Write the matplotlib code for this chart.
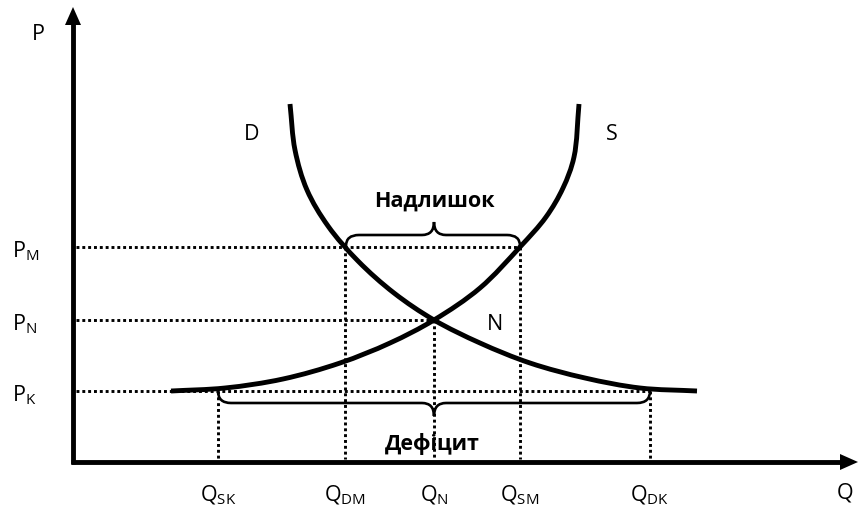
import numpy as np
import matplotlib
matplotlib.use('Agg')
from matplotlib import pyplot as plt
from matplotlib.path import Path
from matplotlib.patches import PathPatch

plt.rcParams['font.family'] = ['Open Sans', 'Noto Sans', 'DejaVu Sans']
plt.rcParams['mathtext.fontset'] = 'custom'
plt.rcParams['mathtext.rm'] = 'Open Sans'

# chart is laid out in picture units (x right, y down)
origin = (73, 462)
q_names = ['SK', 'DM', 'N', 'SM', 'DK']
q_levels = [218, 345, 434, 520, 650]
p_names = ['M', 'N', 'K']
p_levels = [247, 320, 391]

demand_x = [290, 295, 307, 328, 358, 394, 434, 480, 530, 585, 640, 697]
demand_y = [104, 150, 190, 226, 261, 293, 320, 343, 363, 378, 388, 391]
supply_x = [171, 225, 283, 340, 390, 434, 480, 520, 546, 563, 574, 579]
supply_y = [391, 388, 379, 363, 343, 320, 288, 247, 217, 188, 157, 104]

# dotted guides: (level, where the line stops)
h_guides = [(247, 520), (320, 434), (391, 650)]
v_guides = [(218, 391), (345, 247), (434, 320), (520, 247), (650, 391)]


def smooth_path(xs, ys, a=0.5):
    # centripetal catmull-rom through the read points, as cubic beziers
    pts = np.column_stack([xs, ys]).astype(float)
    ext = np.vstack([2 * pts[0] - pts[1], pts, 2 * pts[-1] - pts[-2]])
    verts = [pts[0]]
    codes = [Path.MOVETO]
    for i in range(1, len(ext) - 2):
        p0, p1, p2, p3 = ext[i - 1], ext[i], ext[i + 1], ext[i + 2]
        d1 = np.hypot(*(p1 - p0)) ** a
        d2 = np.hypot(*(p2 - p1)) ** a
        d3 = np.hypot(*(p3 - p2)) ** a
        b1 = (d1 ** 2 * p2 - d2 ** 2 * p0 + (2 * d1 ** 2 + 3 * d1 * d2 + d2 ** 2) * p1) / (3 * d1 * (d1 + d2))
        b2 = (d3 ** 2 * p1 - d2 ** 2 * p3 + (2 * d3 ** 2 + 3 * d3 * d2 + d2 ** 2) * p2) / (3 * d3 * (d3 + d2))
        verts += [b1, b2, p2]
        codes += [Path.CURVE4] * 3
    return Path(verts, codes)


def brace(x0, x1, y_end, y_mid, y_tip, xm, r=13, rt=12):
    verts = [(x0, y_end), (x0, y_mid), (x0 + r, y_mid), (xm - rt, y_mid),
             (xm, y_mid), (xm, y_tip), (xm, y_mid), (xm + rt, y_mid),
             (x1 - r, y_mid), (x1, y_mid), (x1, y_end)]
    codes = [Path.MOVETO, Path.CURVE3, Path.CURVE3, Path.LINETO,
             Path.CURVE3, Path.CURVE3, Path.CURVE3, Path.CURVE3,
             Path.LINETO, Path.CURVE3, Path.CURVE3]
    return Path(verts, codes)


fig = plt.figure(figsize=(8.58, 5.09), dpi=100)
ax = fig.add_axes([0, 0, 1, 1])
ax.set_xlim(0, 858)
ax.set_ylim(509, 0)
ax.axis('off')

dot = dict(color='black', lw=2.1, linestyle=(0, (1, 1)), dash_capstyle='butt')
for y, x_end in h_guides:
    ax.plot([origin[0] + 3, x_end], [y, y], **dot)
for x, y_start in v_guides:
    ax.plot([x, x], [y_start, origin[1] - 3], **dot)

ax.add_patch(PathPatch(smooth_path(demand_x, demand_y), fill=False, lw=3.5,
                       capstyle='butt'))
ax.add_patch(PathPatch(smooth_path(supply_x, supply_y), fill=False, lw=3.5,
                       capstyle='butt'))

ax.add_patch(PathPatch(brace(346, 520, 246, 235, 222, 434), fill=False, lw=1.9))
ax.add_patch(PathPatch(brace(218, 650, 391, 403, 416, 434), fill=False, lw=1.9))

# axes with arrows
ax.plot([origin[0], origin[0]], [origin[1] + 2, 22], color='black', lw=3.5,
        solid_capstyle='butt')
ax.plot([origin[0] - 2, 842], [origin[1], origin[1]], color='black', lw=3.5,
        solid_capstyle='butt')
ax.fill([origin[0], origin[0] - 8, origin[0] + 8], [7, 25, 25], color='black', lw=0)
ax.fill([858, 840, 840], [origin[1], origin[1] - 8, origin[1] + 8], color='black', lw=0)

fs = 15.5
ax.text(38, 34, 'P', fontsize=fs, ha='center', va='center')
ax.text(845, 493, 'Q', fontsize=fs, ha='center', va='center')
ax.text(252, 134, 'D', fontsize=fs, ha='center', va='center')
ax.text(612, 134, 'S', fontsize=fs, ha='center', va='center')
ax.text(495, 324, 'N', fontsize=fs, ha='center', va='center')
for name, y in zip(p_names, p_levels):
    ax.text(12, y + 4, r'$\mathrm{P}_{\mathrm{%s}}$' % name, fontsize=fs,
            ha='left', va='center')
for name, x in zip(q_names, q_levels):
    ax.text(x, 495, r'$\mathrm{Q}_{\mathrm{%s}}$' % name, fontsize=fs,
            ha='center', va='center')

ax.text(434, 201, 'Надлишок', fontsize=15.5, fontweight='bold', ha='center', va='center')
ax.text(432, 444, 'Дефіцит', fontsize=15.5, fontweight='bold', ha='center', va='center')

plt.savefig('out.png', dpi=100)
